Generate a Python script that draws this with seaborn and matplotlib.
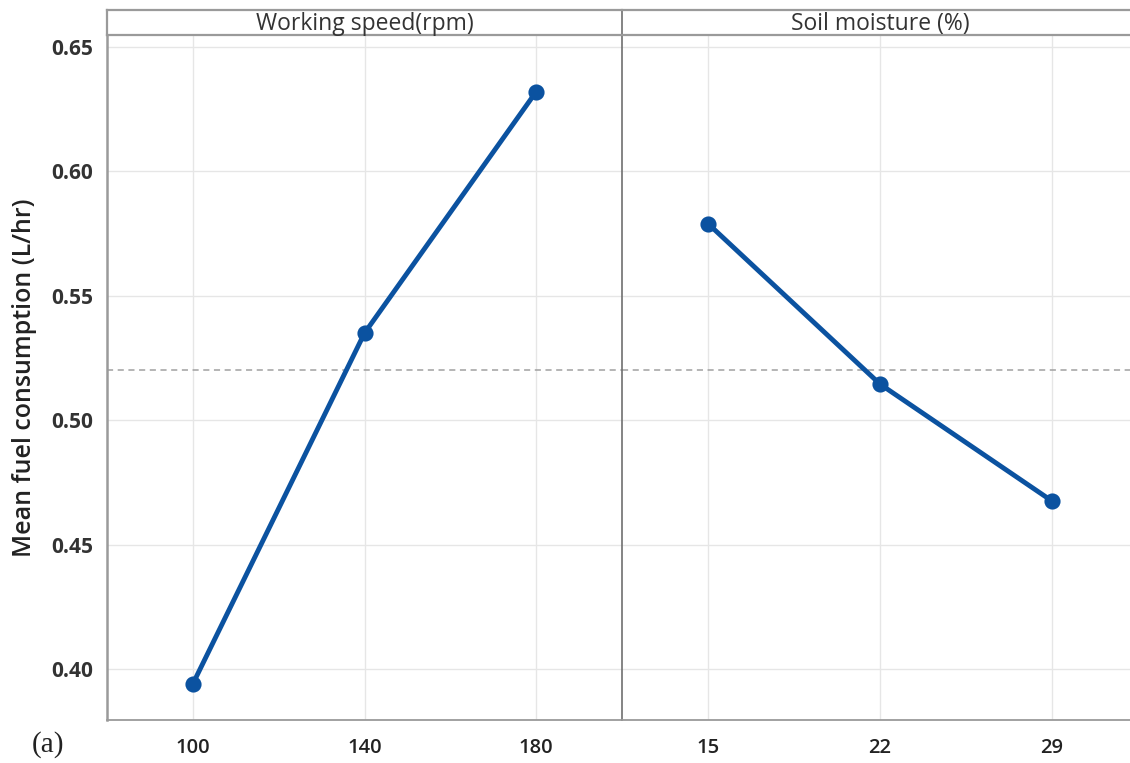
import matplotlib
matplotlib.use("Agg")
import matplotlib.pyplot as plt
import seaborn as sns
import pandas as pd

# Data
speed_levels = ["100", "140", "180"]
speed_means = [0.394, 0.535, 0.632]
moisture_levels = ["15", "22", "29"]
moisture_means = [0.579, 0.5145, 0.4675]
panel_titles = ["Working speed(rpm)", "Soil moisture (%)"]
y_ticks = [0.40, 0.45, 0.50, 0.55, 0.60, 0.65]
grand_mean = 0.5203
y_label = "Mean fuel consumption (L/hr)"

sns.set_theme(style="white")
plt.rcParams["font.family"] = ["Open Sans", "DejaVu Sans"]

W, H = 1130, 763
fig = plt.figure(figsize=(W / 100, H / 100), dpi=100)

def rect(x0, y0, x1, y1):
    return [x0 / W, 1 - y1 / H, (x1 - x0) / W, (y1 - y0) / H]

line_color = "#0B52A0"
spine_color = "#9a9a9a"
grid_color = "#e6e6e6"

panels = [
    (speed_levels, speed_means, 107, 622),
    (moisture_levels, moisture_means, 622, 1138),
]
ymin, ymax = 0.3795, 0.6548

for i, (levels, means, x0, x1) in enumerate(panels):
    ax = fig.add_axes(rect(x0, 35, x1, 720))
    df = pd.DataFrame({"level": levels, "mean": means})
    ax.axhline(grand_mean, color="#a0a0a0", linestyle=(0, (4, 3)), linewidth=1.1, zorder=1)
    sns.pointplot(data=df, x="level", y="mean", ax=ax, color=line_color,
                  markers="o", markersize=9, linewidth=3.5, zorder=3)
    ax.set_xlim(-0.5, len(levels) - 0.5)
    ax.set_ylim(ymin, ymax)
    ax.set_yticks(y_ticks)
    ax.grid(True, color=grid_color, linewidth=1.0)
    ax.set_axisbelow(True)
    ax.set_xlabel("")
    ax.set_ylabel("")
    ax.tick_params(axis="x", labelsize=14.5, colors="#222222", length=5, width=1,
                   color=spine_color, pad=8)
    for lbl in ax.get_xticklabels():
        lbl.set_fontweight("semibold")
    for sp in ["top", "right"]:
        ax.spines[sp].set_visible(False)
    ax.spines["bottom"].set_color(spine_color)
    ax.spines["bottom"].set_linewidth(1.3)
    if i == 0:
        ax.spines["left"].set_color(spine_color)
        ax.spines["left"].set_linewidth(1.8)
        ax.set_yticklabels([f"{t:.2f}" for t in y_ticks])
        ax.tick_params(axis="y", labelsize=15, colors="#333333", length=5,
                       width=1, color=spine_color, pad=5)
        for lbl in ax.get_yticklabels():
            lbl.set_fontweight("bold")
        ax.set_ylabel(y_label, fontsize=18, color="#222222", fontweight="semibold", labelpad=10)
    else:
        ax.spines["left"].set_color("#707070")
        ax.spines["left"].set_linewidth(1.2)
        ax.tick_params(axis="y", left=False, labelleft=False)

    # strip
    sax = fig.add_axes(rect(x0, 10, x1, 35))
    sax.set_xticks([])
    sax.set_yticks([])
    sax.set_facecolor("white")
    for sp in sax.spines.values():
        sp.set_color(spine_color)
        sp.set_linewidth(1.6)
    sax.spines["right"].set_visible(False)
    if i == 1:
        sax.spines["left"].set_color("#707070")
        sax.spines["left"].set_linewidth(1.2)
    sax.text(0.5, 0.45, panel_titles[i], transform=sax.transAxes, ha="center",
             va="center", fontsize=16.5, color="#333333")

fig.text(48 / W, 1 - 745 / H, "(a)", fontsize=21, family="Liberation Serif",
         ha="center", va="center", color="#222222")

fig.savefig("out.png", dpi=100)
